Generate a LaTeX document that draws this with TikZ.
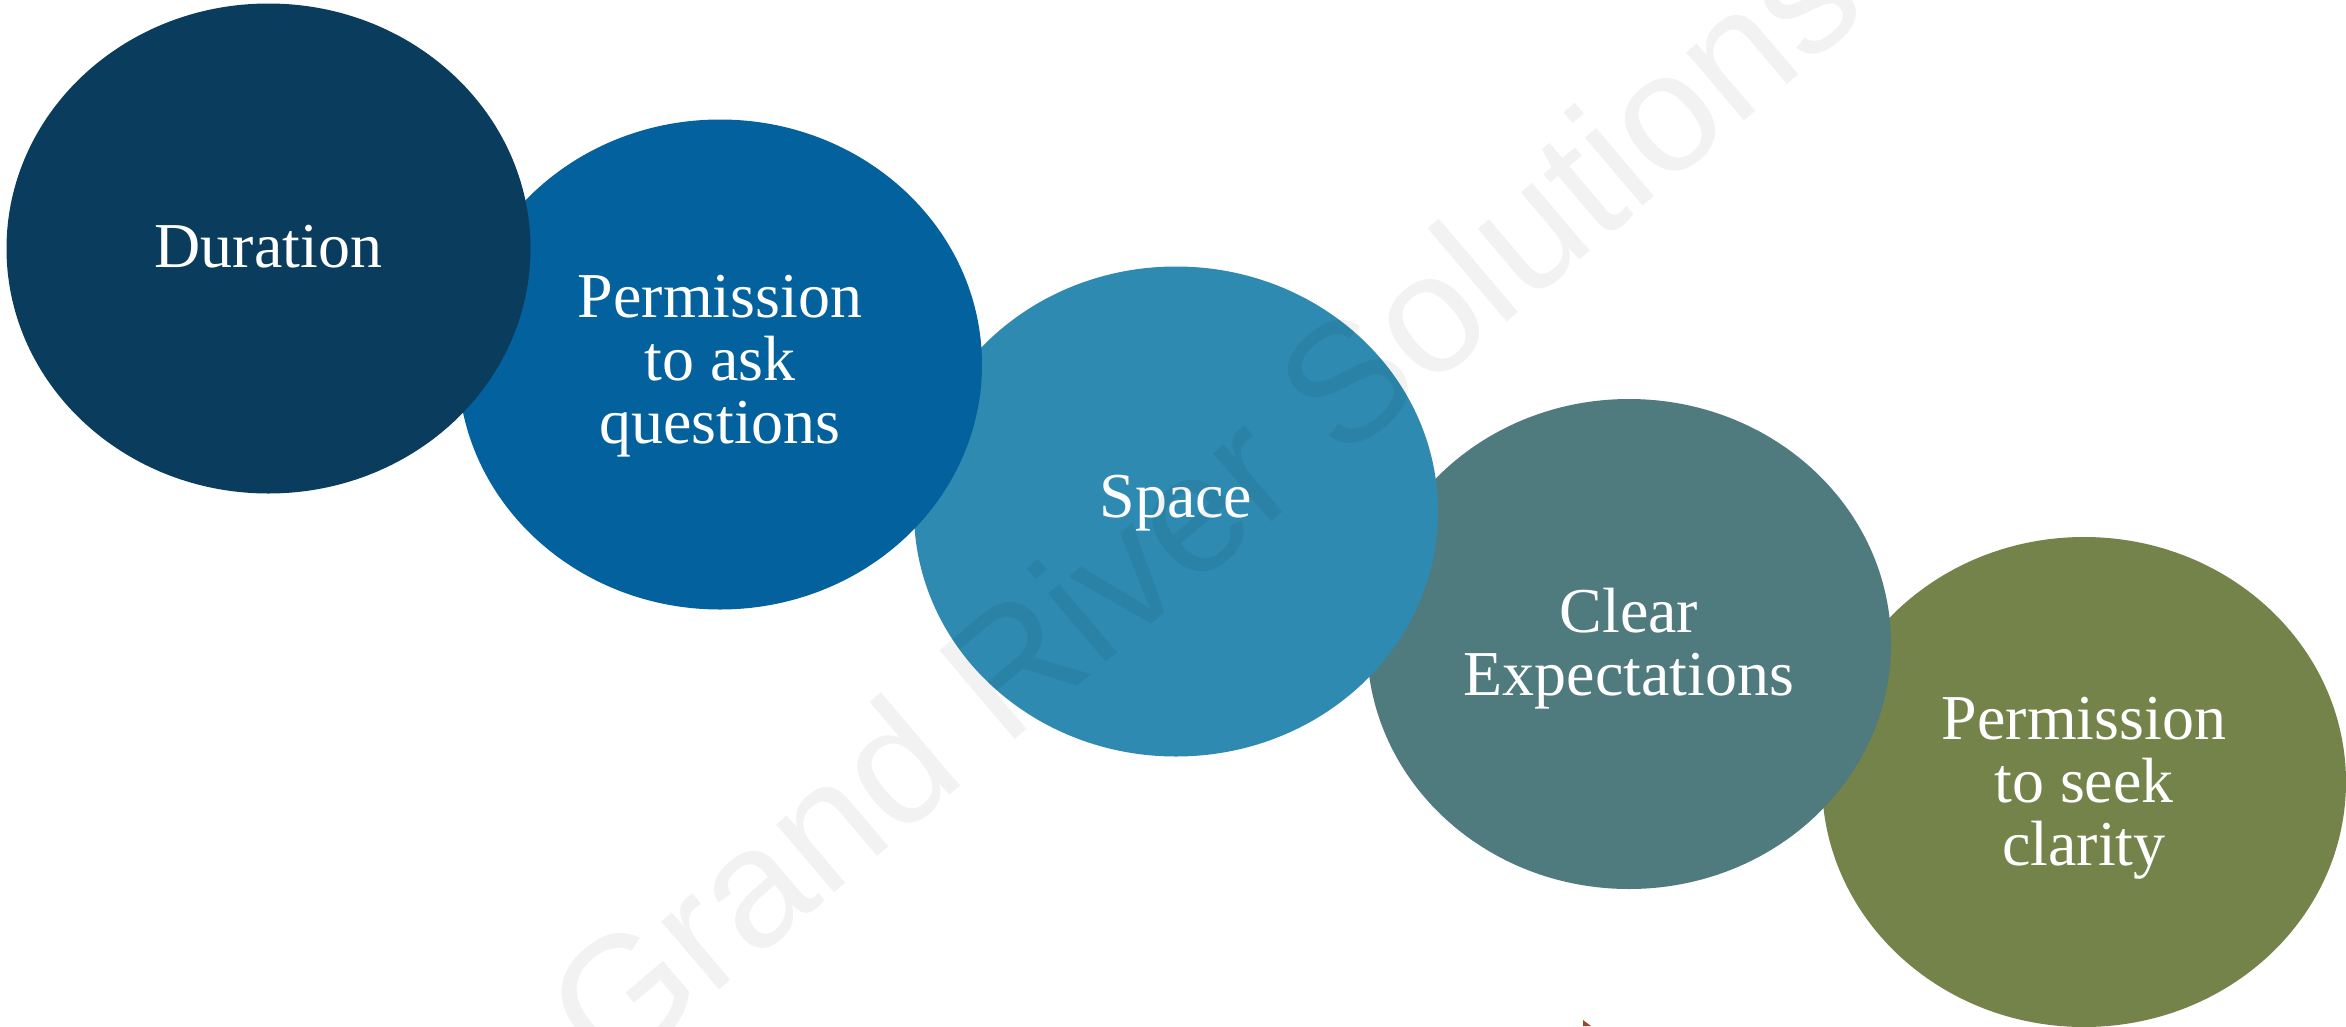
\documentclass[tikz,border=0pt]{standalone}
\usepackage{fontspec}
\setmainfont{Liberation Serif}
\newfontfamily\wmfont{Liberation Sans}
\usetikzlibrary{shapes.geometric}
\definecolor{cA}{HTML}{0A3C5E}
\definecolor{cB}{HTML}{03619D}
\definecolor{cC}{HTML}{2E8AB1}
\definecolor{cD}{HTML}{4F7A7E}
\definecolor{cE}{HTML}{748349}
\definecolor{cTri}{HTML}{A0451F}
\tikzset{
  bubble/.style={ellipse, inner sep=0pt, minimum width=52.4mm, minimum height=49mm},
  bubbletext/.style={inner sep=0pt, text=white, align=center,
    font=\fontsize{18.2pt}{17.9pt}\selectfont},
  watermark/.style={anchor=base west, rotate=40.3, inner sep=0pt,
    text=black, text opacity=0.05, font=\wmfont\fontsize{48.1pt}{50pt}\selectfont}
}
\begin{document}
\begin{tikzpicture}[x=0.1mm, y=-0.1mm]
\useasboundingbox (0,0) rectangle (2346,1026);
\fill[white] (0,0) rectangle (2346,1026);
\node[bubble, fill=cE] (e) at (2084,782) {};
\node[bubbletext] (et) at (2084,788) {Permission\\to seek\\clarity};
\node[bubble, fill=cD] (d) at (1629,644) {};
\node[bubbletext] (dt) at (1629,649) {Clear\\Expectations};
\node[bubble, fill=cC] (c) at (1176,511.5) {};
\node[bubbletext] (ct) at (1176,503) {Space};
\node[bubble, fill=cB] (b) at (720,364.5) {};
\node[bubbletext] (bt) at (720,366) {Permission\\to ask\\questions};
\node[bubble, fill=cA] (a) at (268.5,248.5) {};
\node[bubbletext] (at) at (268.5,247) {Duration};
\node[watermark] (wm) at (610,1083) {Grand River Solutions};
\fill[cTri] (1583,1020) -- (1583,1026) -- (1591,1026) -- cycle;
\end{tikzpicture}
\end{document}
